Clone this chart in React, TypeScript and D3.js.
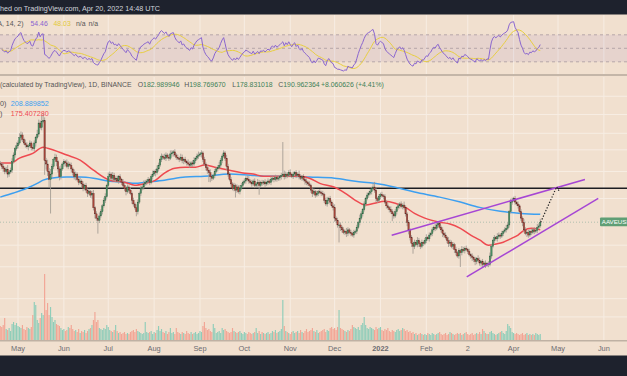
import React from "react";
import * as d3 from "d3";

const W = 627;
const H = 376;

// Daily AAVEUSD candles, 2021-04-19 .. 2022-04-20 (closes in USD)
const startDay = Date.UTC(2021, 3, 19);
const firstOpen = 372;
const closes = [
  370, 360, 352, 340, 348, 330, 338, 345, 380, 410,
  440, 455, 470, 500, 515, 490, 470, 460, 450, 455,
  470, 445, 440, 470, 500, 520, 590, 560, 600, 605,
  385, 370, 340, 310, 330, 360, 390, 400, 380, 350,
  320, 350, 370, 380, 375, 360, 370, 365, 350, 335,
  320, 330, 310, 300, 305, 295, 280, 290, 275, 265,
  270, 260, 265, 225, 210, 200, 195, 205, 215, 230,
  245, 255, 290, 320, 330, 315, 325, 310, 315, 305,
  320, 310, 300, 290, 280, 270, 285, 275, 265, 245,
  235, 225, 215, 240, 265, 280, 285, 295, 300, 305,
  310, 300, 320, 330, 340, 335, 350, 365, 390, 405,
  400, 395, 410, 400, 395, 415, 420, 425, 410, 400,
  395, 390, 400, 385, 390, 380, 375, 370, 365, 375,
  370, 385, 395, 405, 410, 415, 420, 390, 370, 355,
  345, 335, 320, 315, 325, 340, 350, 355, 365, 385,
  405, 420, 395, 360, 330, 310, 295, 280, 290, 275,
  285, 270, 280, 290, 300, 305, 315, 310, 305, 300,
  295, 305, 290, 295, 300, 290, 300, 298, 302, 295,
  300, 305, 300, 310, 315, 310, 318, 312, 316, 320,
  325, 330, 320, 330, 325, 335, 328, 322, 330, 335,
  325, 330, 320, 315, 320, 310, 305, 300, 295, 290,
  275, 265, 270, 260, 265, 270, 268, 265, 262, 245,
  235, 245, 250, 240, 230, 225, 200, 195, 185, 185,
  180, 175, 170, 172, 168, 175, 170, 168, 165, 170,
  172, 180, 190, 200, 210, 220, 235, 250, 260, 265,
  270, 280, 285, 275, 250, 245, 255, 262, 258, 255,
  240, 230, 225, 220, 215, 210, 205, 215, 225, 230,
  235, 228, 232, 225, 210, 190, 175, 160, 150, 145,
  152, 148, 155, 150, 145, 152, 150, 155, 160, 158,
  165, 168, 175, 180, 178, 185, 188, 180, 175, 168,
  165, 160, 155, 150, 152, 145, 148, 140, 135, 130,
  138, 135, 140, 138, 142, 140, 137, 132, 130, 128,
  125, 122, 126, 124, 120, 122, 118, 120, 117, 119,
  118, 130, 145, 155, 160, 158, 162, 165, 163, 168,
  172, 175, 178, 185, 215, 240, 245, 250, 240, 235,
  230, 215, 200, 190, 175, 168, 170, 165, 172, 170,
  175, 172, 174, 180, 182.99, 190.96,
];
// upper / lower wick length in % beyond the body
const wickHi = [
  3, 2, 4, 2, 3, 5, 2, 3, 4, 3, 2, 4, 3, 5, 4, 3, 2, 4, 3, 2,
  3, 2, 4, 3, 2, 5, 4, 3, 7, 9, 4, 3, 5, 4, 6, 3, 2, 4, 3, 2,
  3, 4, 2, 3, 2, 4, 3, 2, 3, 2, 4, 3, 2, 3, 4, 2, 3, 2, 3, 2,
  3, 2, 3, 4, 2, 3, 2, 4, 3, 2, 3, 4, 2, 5, 3, 2, 4, 3, 2, 3,
  2, 3, 2, 4, 3, 2, 3, 2, 3, 2, 3, 2, 4, 3, 2, 3, 2, 4, 3, 2,
  3, 2, 3, 4, 2, 3, 4, 3, 2, 3, 2, 4, 3, 2, 3, 4, 3, 2, 3, 2,
  3, 2, 4, 3, 2, 3, 2, 4, 3, 2, 3, 4, 2, 3, 4, 2, 3, 2, 3, 2,
  3, 2, 4, 3, 2, 3, 2, 3, 4, 3, 2, 3, 2, 4, 3, 2, 3, 2, 3, 2,
  3, 2, 4, 3, 2, 3, 2, 3, 4, 2, 3, 2, 3, 2, 4, 3, 2, 3, 2, 3,
  2, 3, 2, 4, 3, 2, 3, 2, 3, 2, 3, 44, 4, 3, 2, 3, 4, 2, 3, 2,
  3, 2, 4, 3, 2, 3, 2, 3, 2, 3, 2, 3, 4, 2, 3, 2, 3, 2, 3, 2,
  3, 4, 2, 3, 2, 3, 4, 2, 3, 3, 3, 2, 3, 2, 4, 3, 2, 3, 2, 3,
  2, 3, 2, 4, 3, 2, 3, 2, 3, 2, 3, 2, 4, 6, 3, 2, 3, 2, 3, 2,
  3, 2, 3, 2, 4, 3, 2, 3, 2, 3, 2, 3, 2, 4, 3, 2, 3, 2, 3, 2,
  3, 2, 4, 3, 2, 3, 2, 3, 4, 2, 3, 2, 3, 2, 4, 3, 2, 3, 2, 3,
  2, 3, 2, 4, 3, 2, 3, 2, 3, 2, 3, 2, 4, 3, 2, 3, 2, 3, 2, 3,
  2, 3, 2, 4, 3, 2, 3, 2, 3, 2, 3, 4, 3, 2, 3, 2, 4, 3, 2, 3,
  2, 3, 4, 3, 2, 4, 3, 2, 3, 2, 3, 2, 3, 2, 4, 3, 2, 3, 2, 3,
  2, 3, 2, 4, 3, 4,
];
const wickLo = [
  2, 3, 4, 3, 2, 4, 3, 2, 3, 2, 3, 2, 3, 2, 4, 3, 2, 3, 2, 4,
  2, 3, 2, 3, 4, 2, 3, 2, 3, 2, 15, 6, 5, 8, 32, 4, 3, 2, 5, 4,
  4, 3, 2, 3, 4, 2, 3, 2, 4, 3, 3, 4, 2, 3, 2, 4, 3, 2, 3, 4,
  2, 3, 4, 3, 5, 3, 14, 3, 2, 3, 2, 3, 2, 3, 4, 2, 3, 2, 3, 2,
  3, 2, 3, 2, 3, 4, 2, 3, 2, 4, 3, 2, 5, 3, 2, 3, 2, 3, 2, 3,
  2, 3, 2, 3, 2, 4, 2, 3, 2, 3, 3, 2, 3, 2, 3, 2, 3, 4, 2, 3,
  2, 3, 2, 3, 4, 2, 3, 2, 3, 2, 3, 2, 3, 2, 3, 2, 4, 3, 2, 3,
  4, 10, 6, 3, 2, 3, 2, 3, 2, 3, 3, 2, 3, 4, 3, 2, 3, 2, 3, 8,
  3, 2, 3, 2, 3, 2, 3, 2, 3, 2, 3, 2, 3, 2, 3, 10, 2, 3, 2, 3,
  2, 3, 2, 3, 2, 3, 2, 3, 2, 3, 3, 2, 3, 2, 3, 2, 3, 2, 3, 2,
  3, 2, 3, 2, 3, 2, 4, 3, 2, 3, 3, 4, 2, 3, 2, 3, 2, 3, 2, 3,
  2, 3, 4, 3, 2, 3, 4, 3, 3, 18, 4, 3, 2, 3, 4, 3, 2, 3, 2, 3,
  2, 3, 2, 3, 2, 3, 2, 3, 2, 3, 2, 3, 2, 3, 4, 3, 2, 3, 2, 3,
  2, 3, 2, 3, 2, 8, 3, 2, 3, 2, 3, 2, 3, 2, 3, 4, 5, 3, 4, 8,
  3, 2, 3, 4, 3, 2, 3, 2, 3, 2, 3, 2, 3, 2, 3, 2, 3, 2, 3, 4,
  3, 2, 3, 4, 3, 2, 3, 4, 3, 2, 3, 15, 3, 2, 3, 2, 3, 2, 3, 4,
  3, 4, 3, 2, 3, 4, 3, 2, 3, 2, 3, 2, 3, 2, 3, 2, 3, 2, 3, 2,
  3, 2, 3, 2, 3, 2, 3, 2, 3, 2, 3, 2, 3, 4, 3, 2, 4, 3, 2, 3,
  2, 3, 2, 3, 2, 2,
];
// daily volume (thousand AAVE)
const volumes = [
  140, 130, 150, 220, 110, 100, 120, 90, 160, 180,
  150, 170, 140, 130, 120, 150, 110, 100, 130, 120,
  110, 130, 250, 380, 350, 200, 170, 220, 270, 250,
  660, 300, 370, 250, 330, 230, 180, 200, 160, 150,
  140, 120, 100, 110, 90, 100, 130, 120, 150, 110,
  90, 100, 80, 110, 70, 90, 80, 100, 70, 90,
  110, 120, 150, 200, 280, 180, 200, 120, 110, 100,
  120, 110, 150, 130, 100, 90, 80, 100, 150, 90,
  70, 80, 60, 70, 80, 60, 70, 60, 80, 90,
  100, 80, 110, 90, 80, 70, 60, 70, 180, 80,
  70, 80, 90, 60, 80, 70, 100, 140, 90, 110,
  80, 70, 90, 60, 80, 120, 70, 80, 60, 120,
  80, 70, 60, 80, 70, 60, 90, 70, 60, 80,
  60, 70, 80, 60, 70, 90, 80, 140, 180, 120,
  100, 110, 90, 80, 160, 120, 70, 80, 90, 70,
  120, 100, 110, 90, 80, 70, 80, 120, 90, 80,
  70, 80, 90, 70, 60, 80, 70, 60, 80, 70,
  60, 70, 80, 120, 70, 90, 60, 80, 70, 60,
  70, 80, 60, 70, 90, 80, 100, 70, 80, 90,
  110, 400, 140, 90, 80, 70, 60, 80, 90, 70,
  80, 90, 70, 100, 80, 70, 90, 110, 80, 90,
  100, 120, 90, 80, 100, 70, 80, 90, 100, 110,
  80, 100, 90, 120, 130, 110, 120, 100, 130, 300,
  120, 110, 100, 90, 80, 100, 90, 110, 150, 130,
  120, 110, 130, 100, 150, 170, 230, 150, 120, 110,
  130, 120, 110, 100, 130, 110, 120, 130, 100, 90,
  110, 100, 120, 90, 80, 100, 90, 80, 100, 110,
  90, 100, 120, 110, 90, 100, 80, 90, 70, 80,
  60, 70, 50, 60, 70, 60, 50, 60, 50, 70,
  60, 50, 70, 60, 50, 60, 70, 80, 60, 50,
  60, 70, 50, 60, 80, 70, 60, 50, 60, 70,
  60, 70, 50, 60, 70, 80, 60, 50, 60, 70,
  50, 60, 70, 60, 80, 60, 110, 90, 70, 60,
  60, 80, 90, 70, 60, 50, 60, 70, 80, 90,
  70, 60, 90, 160, 140, 120, 80, 70, 60, 70,
  60, 50, 60, 70, 50, 60, 70, 50, 60, 50,
  60, 50, 70, 60, 50, 60,
];

// moving averages (day index, price)
const sma50Days = [0, 7, 13, 22, 29, 32, 45, 54, 63, 74, 84, 91, 98, 105, 111, 118, 125, 132, 138, 145, 155, 164, 171, 178, 187, 196, 203, 209, 216, 226, 233, 240, 247, 253, 260, 267, 274, 280, 287, 297, 304, 311, 318, 324, 330, 335, 340, 345, 350, 354, 359, 365];
const sma50Vals = [374, 374, 396, 418, 448, 443, 410, 387, 345, 308, 301, 291, 297, 308, 334, 353, 357, 357, 366, 357, 345, 334, 330, 322, 322, 322, 322, 315, 297, 284, 266, 245, 232, 237, 242, 237, 226, 211, 200, 191, 187, 178, 165, 156, 147, 149, 152, 158, 165, 174, 178, 175.41];
const sma200Days = [0, 9, 18, 25, 29, 34, 45, 54, 63, 74, 84, 91, 98, 111, 125, 138, 155, 169, 182, 196, 209, 226, 240, 253, 267, 280, 297, 311, 324, 338, 352, 365];
const sma200Vals = [254, 266, 281, 297, 308, 315, 319, 319, 315, 304, 301, 297, 301, 308, 319, 322, 330, 326, 322, 322, 319, 315, 304, 297, 284, 269, 254, 240, 226, 216, 211, 208.89];

const monthTicks = ["2021-05-01", "2021-06-01", "2021-07-01", "2021-08-01", "2021-09-01", "2021-10-01", "2021-11-01", "2021-12-01", "2022-01-01", "2022-02-01", "2022-03-01", "2022-04-01", "2022-05-01", "2022-06-01"];
const monthLabels = ["May", "Jun", "Jul", "Aug", "Sep", "Oct", "Nov", "Dec", "2022", "Feb", "2", "Apr", "May", "Jun"];
const gridPrices = [800, 650, 525, 435, 340, 250, 147, 115, 80, 65];
const resistance = 281;
const upperTrend = [[264.6, 164.7], [395.2, 310.6]];
const lowerTrend = [[315.3, 102.5], [404.2, 250.2]];
const projection = [[365.3, 191], [376.1, 285.5], [378, 270.3]];
const rsiLevels = [70, 50, 30];

const FONT = "Liberation Sans, Arial, sans-serif";
const BG = "#f1e0cf";
const DARK = "#1e222d";
const GREEN = "#4a8f63";
const RED = "#a9463b";
const FS = 6.9;

export default function App() {
  const x = d3
    .scaleUtc()
    .domain([new Date(Date.UTC(2021, 4, 1)), new Date(Date.UTC(2022, 4, 1))])
    .range([18, 558]);
  const dayX = (d: number) => x(new Date(startDay + d * 86400000));
  const y = d3.scaleLog().domain([50, 859]).range([340, 90]);
  const yR = d3.scaleLinear().domain([0, 100]).range([82.05, 14.55]);
  const yV = d3.scaleLinear().domain([0, 660]).range([340, 274]);

  const opens = closes.map((c, i) => (i === 0 ? firstOpen : closes[i - 1]));
  const highs = closes.map((c, i) => Math.max(opens[i], c) * (1 + wickHi[i] / 100));
  const lows = closes.map((c, i) => Math.min(opens[i], c) * (1 - wickLo[i] / 100));

  // RSI 14 (Wilder) and its 14-period SMA
  let ag = 10;
  let al = 10;
  const rsi: [number, number][] = [];
  for (let i = 1; i < closes.length; i++) {
    const ch = closes[i] - closes[i - 1];
    ag = (ag * 13 + Math.max(ch, 0)) / 14;
    al = (al * 13 + Math.max(-ch, 0)) / 14;
    rsi.push([i, al === 0 ? 100 : 100 - 100 / (1 + ag / al)]);
  }
  const rsiMa: [number, number][] = rsi.map((p, k) => {
    const win = rsi.slice(Math.max(0, k - 13), k + 1);
    return [p[0], d3.mean(win, (w) => w[1]) as number];
  });

  const rsiLine = d3.line<[number, number]>().x((d) => dayX(d[0])).y((d) => yR(d[1]));
  const sma50Path = d3
    .line<number>()
    .curve(d3.curveMonotoneX)
    .x((d) => dayX(d))
    .y((d, i) => y(sma50Vals[i]))(sma50Days);
  const sma200Path = d3
    .line<number>()
    .curve(d3.curveMonotoneX)
    .x((d) => dayX(d))
    .y((d, i) => y(sma200Vals[i]))(sma200Days);
  const ptLine = d3.line<number[]>().x((d) => dayX(d[0])).y((d) => y(d[1]));

  const lastClose = closes[closes.length - 1];
  const barW = 1.15;

  return (
    <svg
      width={W}
      height={H}
      style={{ position: "fixed", left: 0, top: 0 }}
      fontFamily={FONT}
    >
      <defs>
        <clipPath id="mainClip">
          <rect x={0} y={76} width={W} height={264} />
        </clipPath>
        <clipPath id="rsiClip">
          <rect x={0} y={15} width={W} height={59} />
        </clipPath>
      </defs>
      <rect x={0} y={0} width={W} height={H} fill={BG} />

      {/* vertical grid */}
      {monthTicks.map((t) => (
        <g key={"vg" + t}>
          <line x1={x(new Date(t))} x2={x(new Date(t))} y1={15} y2={74} stroke="#f7ede3" strokeWidth={1} />
          <line x1={x(new Date(t))} x2={x(new Date(t))} y1={77} y2={340} stroke="#f7ede3" strokeWidth={1} />
        </g>
      ))}
      {/* horizontal grid */}
      {gridPrices.map((p) => (
        <line key={"hg" + p} x1={0} x2={W} y1={y(p)} y2={y(p)} stroke="#f7ede3" strokeWidth={1} />
      ))}

      {/* RSI pane */}
      <rect x={0} y={yR(70)} width={W} height={yR(30) - yR(70)} fill="rgba(126,87,194,0.09)" />
      {rsiLevels.map((l) => (
        <line key={"rl" + l} x1={0} x2={W} y1={yR(l)} y2={yR(l)} stroke="#a89aa0" strokeWidth={0.8} strokeDasharray="3 3" />
      ))}
      <g clipPath="url(#rsiClip)">
        <path d={rsiLine(rsiMa) || ""} fill="none" stroke="#e8cf3f" strokeWidth={1} />
        <path d={rsiLine(rsi) || ""} fill="none" stroke="#8a66cf" strokeWidth={1} />
      </g>
      <rect x={0} y={74} width={W} height={2} fill="#c4b6a8" />

      {/* volume */}
      {volumes.map((v, i) => (
        <rect
          key={"v" + i}
          x={dayX(i) - barW / 2}
          y={yV(v)}
          width={barW}
          height={340 - yV(v)}
          fill={closes[i] >= opens[i] ? "#8fcdb9" : "#f2a595"}
        />
      ))}

      <g clipPath="url(#mainClip)">
        {/* last price line */}
        <line x1={0} x2={W} y1={y(lastClose)} y2={y(lastClose)} stroke="#9fb7a6" strokeWidth={0.8} strokeDasharray="1 2" />
        {/* resistance */}
        <line x1={0} x2={W} y1={y(resistance)} y2={y(resistance)} stroke="#1c1d22" strokeWidth={1.6} />
        {/* moving averages */}
        <path d={sma200Path || ""} fill="none" stroke="#3d9ff0" strokeWidth={1.5} />
        <path d={sma50Path || ""} fill="none" stroke="#ee4a50" strokeWidth={1.5} />
        {/* candles */}
        {closes.map((c, i) => {
          const cx = dayX(i);
          const up = c >= opens[i];
          const top = y(Math.max(c, opens[i]));
          const bot = y(Math.min(c, opens[i]));
          return (
            <g key={"c" + i}>
              <line x1={cx} x2={cx} y1={y(highs[i])} y2={y(lows[i])} stroke="#9c968e" strokeWidth={0.8} />
              <rect
                x={cx - 0.7}
                y={top}
                width={1.4}
                height={Math.max(0.8, bot - top)}
                fill={up ? GREEN : RED}
                stroke={up ? "#2d5a3c" : "#5e2a24"}
                strokeWidth={0.35}
              />
            </g>
          );
        })}
        {/* trend lines */}
        <path d={ptLine(upperTrend) || ""} stroke="#a646d4" strokeWidth={1.5} fill="none" />
        <path d={ptLine(lowerTrend) || ""} stroke="#a646d4" strokeWidth={1.5} fill="none" />
        <path d={ptLine(projection) || ""} stroke="#222" strokeWidth={1.2} strokeDasharray="1.3 1.7" fill="none" />
      </g>

      {/* last price label */}
      <rect x={600} y={217.5} width={40} height={8.8} rx={1} fill="#5f9e75" />
      <text x={601.8} y={224.4} fontSize={6.2} fill="#ffffff">AAVEUSD</text>

      {/* time axis */}
      <rect x={0} y={340} width={W} height={1.5} fill="#bfb1a3" />
      {monthTicks.map((t, i) => (
        <text
          key={"ml" + t}
          x={x(new Date(t))}
          y={351}
          fontSize={7.4}
          textAnchor="middle"
          fill="#6b6b70"
          fontWeight={monthLabels[i] === "2022" ? "bold" : "normal"}
        >
          {monthLabels[i]}
        </text>
      ))}

      {/* dark bars */}
      <rect x={0} y={0} width={W} height={14.5} fill={DARK} />
      <text x={160} y={10.8} fontSize={7.2} fill="#d1d4dc" textAnchor="end">
        AAVEUSD chart published on TradingView.com, Apr 20, 2022 14:48 UTC
      </text>
      <rect x={0} y={355.5} width={W} height={H - 355.5} fill={DARK} />

      {/* RSI legend */}
      <text y={25.8} fontSize={FS}>
        <tspan x={23.5} textAnchor="end" fill="#555">RSI (14, close, SMA, 14, 2)</tspan>
        <tspan x={30.5} fill="#8a66cf">54.46</tspan>
        <tspan x={53.5} fill="#e3c93a">48.03</tspan>
        <tspan x={76} fill="#555">n/a</tspan>
        <tspan x={88.5} fill="#555">n/a</tspan>
      </text>

      {/* main legend */}
      <text y={87.3} fontSize={FS}>
        <tspan x={0} fill="#555">(calculated by TradingView), 1D, BINANCE</tspan>
        <tspan x={137.7} fill="#555">O</tspan>
        <tspan fill="#3f8157">182.989946</tspan>
        <tspan x={184.3} fill="#555">H</tspan>
        <tspan fill="#3f8157">198.769670</tspan>
        <tspan x={232.3} fill="#555">L</tspan>
        <tspan fill="#3f8157">178.831018</tspan>
        <tspan x={278.3} fill="#555">C</tspan>
        <tspan fill="#3f8157">190.962364</tspan>
        <tspan x={321} fill="#3f8157">+8.060626 (+4.41%)</tspan>
      </text>
      <text y={106.3} fontSize={7.2}>
        <tspan x={6.5} textAnchor="end" fill="#555">SMA (200)</tspan>
        <tspan x={10.7} fill="#3d9ff0">208.889852</tspan>
      </text>
      <text y={116} fontSize={7.2}>
        <tspan x={2.5} textAnchor="end" fill="#555">SMA (50)</tspan>
        <tspan x={10.7} fill="#ee4a50">175.407280</tspan>
      </text>
    </svg>
  );
}
